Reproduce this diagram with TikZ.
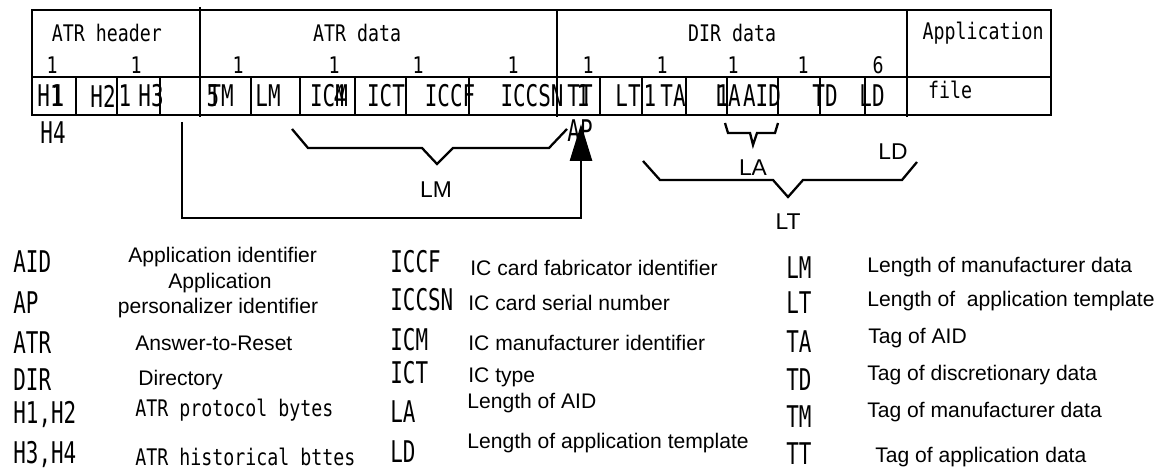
\documentclass[tikz,border=0pt]{standalone}
\usepackage{fontspec}
\setmainfont{Liberation Sans}
\newfontfamily\gothic[FakeStretch=0.8]{DejaVu Sans Mono}
\newfontfamily\gothicn[FakeStretch=0.7]{DejaVu Sans Mono}
\usetikzlibrary{arrows.meta}

\tikzset{
	frame/.style={line width=1.6pt},
	brace/.style={line width=1.3pt},
	head/.style={font=\gothic\fontsize{13}{13}\selectfont, inner sep=0pt},
	cell/.style={font=\gothicn\fontsize{17}{17}\selectfont, inner sep=0pt},
	abbr/.style={font=\gothicn\fontsize{17}{17}\selectfont, inner sep=0pt, anchor=west},
	desc/.style={font=\fontsize{12}{12}\selectfont, inner sep=0pt, anchor=west},
	mdesc/.style={font=\gothic\fontsize{13}{13}\selectfont, inner sep=0pt, anchor=west},
	brlabel/.style={font=\fontsize{13}{13}\selectfont, inner sep=0pt}
}

\begin{document}
\begin{tikzpicture}[x=0.02cm, y=-0.02cm]
	\useasboundingbox (0,0) rectangle (1158,475);

	% table
	\draw[frame] (32,10) rectangle (1051,115);
	\draw[frame] (32,77) -- (1051,77);
	\draw[frame] (200,7) -- (200,117);
	\draw[frame] (557,10) -- (557,117);
	\draw[frame] (907,10) -- (907,117);
	\foreach \x in {76,117,160,251,300,355,406,469,600,642,686,727,778,820,865}
		\draw[frame] (\x,77) -- (\x,115);

	\node[head] (atrhead) at (107,33) {ATR header};
	\node[head] (atrdata) at (357,33) {ATR data};
	\node[head] (dirdata) at (732,33) {DIR data};
	\node[head] (appl) at (983,33) {Application};
	\foreach \x [count=\i] in {52,136,238,334,418,513,588,662,733,803}
		\node[head] (num\i) at (\x,65) {1};
	\node[head] (num11) at (878,65) {6};

	\node[cell] (h1) at (50,96) {H1};
	\node[cell] (h1x) at (58,96) {1};
	\node[cell] (h2) at (103,96) {H2};
	\node[cell] (h3x) at (125,96) {1};
	\node[cell] (h3) at (151,96) {H3};
	\node[cell] (tm) at (221,96) {TM};
	\node[cell] (tmx) at (213,96) {5};
	\node[cell] (lm) at (268,96) {LM};
	\node[cell] (icm) at (329,96) {ICM};
	\node[cell] (icmx) at (340,96) {4};
	\node[cell] (ict) at (386,96) {ICT};
	\node[cell] (iccf) at (450,96) {ICCF};
	\node[cell] (iccsn) at (532,96) {ICCSN};
	\node[cell] (tt) at (580,96) {TT};
	\node[cell] (ttx) at (583,96) {1};
	\node[cell] (lt) at (628,96) {LT};
	\node[cell] (tax) at (650,96) {1};
	\node[cell] (ta) at (673,96) {TA};
	\node[cell] (la) at (728,96) {LA};
	\node[cell] (lax) at (723,96) {1};
	\node[cell] (aid) at (762,96) {AID};
	\node[cell] (td) at (825,96) {TD};
	\node[cell] (ld) at (872,96) {LD};
	\node[head] (file) at (950,90) {file};
	\node[cell] (h4) at (53,133) {H4};

	% AP arrow
	\node[cell] (ap) at (580,131) {AP};
	\coordinate (hstart) at (182,122);
	\coordinate (turn) at (182,218);
	\coordinate (aptip) at (581,124);
	\draw[frame, -{Triangle[length=0.74cm,width=0.44cm]}] (hstart) -- (turn) -| (aptip);

	% braces
	\draw[brace] (292,129) -- (308,148) -- (422,148) -- (437,164) -- (453,148) -- (549,148) -- (567,129);
	\draw[brace] (725,123) -- (728,133) -- (750,133) -- (753,145) -- (757,133) -- (775,133) -- (778,123);
	\draw[brace] (643,161) -- (660,180) -- (773,180) -- (788,197) -- (803,180) -- (902,180) -- (917,162);
	\node[brlabel] (lmlab) at (436,190) {LM};
	\node[brlabel] (lalab) at (753,168) {LA};
	\node[brlabel] (ldlab) at (893,152) {LD};
	\node[brlabel] (ltlab) at (788,222) {LT};

	% legend
	\node[abbr] (kaid) at (13,262) {AID};
	\node[abbr] (kap) at (13,303) {AP};
	\node[abbr] (katr) at (13,343) {ATR};
	\node[abbr] (kdir) at (13,380) {DIR};
	\node[abbr] (kh12) at (13,415) {H1,H2};
	\node[abbr] (kh34) at (13,455) {H3,H4};
	\node[desc] (daid) at (128,257) {Application identifier};
	\node[desc, anchor=center] (dap1) at (220,283) {Application};
	\node[desc, anchor=center] (dap2) at (218,308) {personalizer identifier};
	\node[desc] (datr) at (135,343) {Answer-to-Reset};
	\node[desc] (ddir) at (138,380) {Directory};
	\node[mdesc] (dh12) at (135,410) {ATR protocol bytes};
	\node[mdesc] (dh34) at (135,457) {ATR historical bttes};

	\node[abbr] (kiccf) at (390,262) {ICCF};
	\node[abbr] (kiccsn) at (390,300) {ICCSN};
	\node[abbr] (kicm) at (390,340) {ICM};
	\node[abbr] (kict) at (390,373) {ICT};
	\node[abbr] (kla) at (390,412) {LA};
	\node[abbr] (kld) at (390,452) {LD};
	\node[desc] (diccf) at (470,268) {IC card fabricator identifier};
	\node[desc] (diccsn) at (468,303) {IC card serial number};
	\node[desc] (dicm) at (468,343) {IC manufacturer identifier};
	\node[desc] (dict) at (468,377) {IC type};
	\node[desc] (dla) at (467,403) {Length of AID};
	\node[desc] (dld) at (467,443) {Length of application template};

	\node[abbr] (klm) at (786,268) {LM};
	\node[abbr] (klt) at (786,303) {LT};
	\node[abbr] (kta) at (786,342) {TA};
	\node[abbr] (ktd) at (786,380) {TD};
	\node[abbr] (ktm) at (786,417) {TM};
	\node[abbr] (ktt) at (786,454) {TT};
	\node[desc] (dlm) at (867,267) {Length of manufacturer data};
	\node[desc] (dlt) at (867,301) {Length of~ application template};
	\node[desc] (dta) at (868,338) {Tag of AID};
	\node[desc] (dtd) at (867,375) {Tag of discretionary data};
	\node[desc] (dtm) at (867,412) {Tag of manufacturer data};
	\node[desc] (dtt) at (875,457) {Tag of application data};
\end{tikzpicture}
\end{document}
